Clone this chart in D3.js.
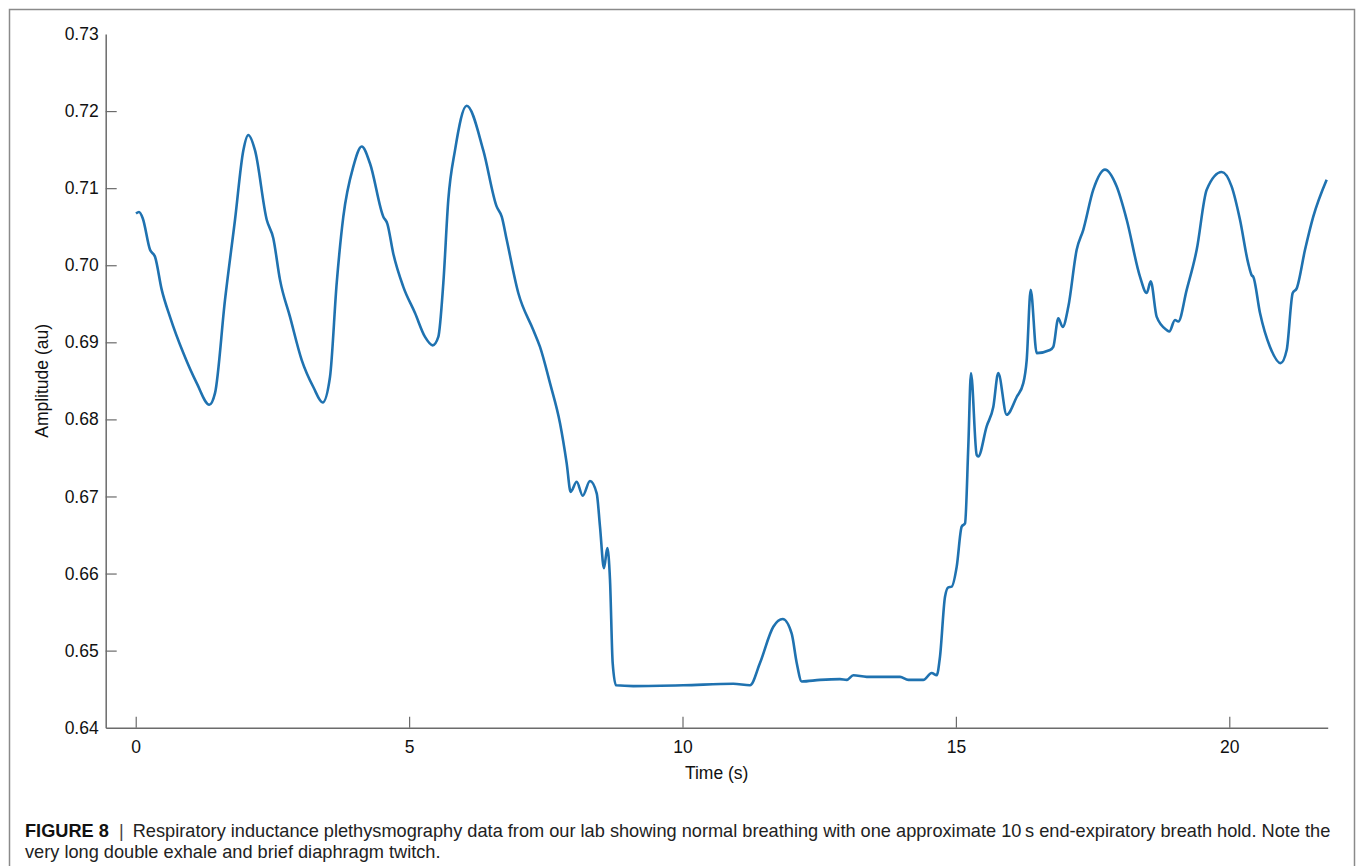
<!DOCTYPE html>
<meta charset="utf-8">

<head>
  <script src="https://d3js.org/d3.v7.min.js"></script>
  <style>
    body { margin: 0; background: #fff; }
    text { font-family: "Liberation Sans", Arial, Helvetica, sans-serif; }
  </style>
</head>

<body>
  <svg id="root"></svg>

  <script>
    // time (s) and amplitude (au)
    const timeS = [
      0.005, 0.06, 0.128, 0.262, 0.353, 0.476, 0.627, 0.871, 1.116, 1.346,
      1.45, 1.633, 1.816, 1.968, 2.059, 2.182, 2.396, 2.516, 2.639, 2.822,
      3.036, 3.248, 3.42, 3.553, 3.676, 3.797, 3.98, 4.133, 4.285, 4.528,
      4.601, 4.711, 4.894, 5.108, 5.291, 5.432, 5.534, 5.626, 5.717, 5.839,
      6.053, 6.357, 6.602, 6.694, 6.785, 6.997, 7.271, 7.394, 7.577, 7.76,
      7.882, 7.955, 8.065, 8.175, 8.308, 8.431, 8.491, 8.564, 8.625, 8.674,
      8.723, 8.784, 9.1, 10.015, 10.929, 11.234, 11.417, 11.661, 11.833, 11.997,
      12.089, 12.18, 12.515, 12.88, 13.003, 13.124, 13.369, 13.978, 14.13, 14.404,
      14.557, 14.649, 14.709, 14.801, 14.861, 14.923, 15.015, 15.106, 15.167, 15.227,
      15.276, 15.38, 15.409, 15.563, 15.684, 15.775, 15.929, 16.112, 16.233, 16.295,
      16.368, 16.478, 16.721, 16.781, 16.873, 16.953, 17.056, 17.209, 17.33, 17.513,
      17.727, 17.941, 18.124, 18.368, 18.49, 18.563, 18.673, 18.855, 18.903, 19.007,
      19.067, 19.221, 19.404, 19.587, 19.861, 20.044, 20.196, 20.348, 20.41, 20.439,
      20.562, 20.745, 20.94, 21.05, 21.16, 21.233, 21.385, 21.536, 21.781
    ];
    const amplitudeAu = [
      0.7067, 0.7069, 0.7061, 0.7020, 0.7011, 0.6968, 0.6933, 0.6886, 0.6847, 0.6819,
      0.6834, 0.6955, 0.7059, 0.7149, 0.7169, 0.7149, 0.7059, 0.7035, 0.6981, 0.6933,
      0.6877, 0.6842, 0.6822, 0.6855, 0.6977, 0.7063, 0.7128, 0.7154, 0.7132, 0.7063,
      0.7054, 0.7015, 0.6972, 0.6938, 0.6907, 0.6896, 0.6907, 0.6977, 0.7085, 0.7149,
      0.7207, 0.7149, 0.7076, 0.7063, 0.7033, 0.6964, 0.6916, 0.6894, 0.6847, 0.6795,
      0.6743, 0.6706, 0.6719, 0.6701, 0.6720, 0.6704, 0.6661, 0.6607, 0.6633, 0.6592,
      0.6484, 0.6455, 0.6454, 0.6455, 0.6457, 0.6455, 0.6484, 0.6531, 0.6541, 0.6522,
      0.6484, 0.6460, 0.6462, 0.6463, 0.6462, 0.6468, 0.6466, 0.6466, 0.6462, 0.6462,
      0.6471, 0.6468, 0.6492, 0.6570, 0.6582, 0.6583, 0.6609, 0.6661, 0.6665, 0.6765,
      0.6860, 0.6754, 0.6752, 0.6791, 0.6816, 0.6860, 0.6806, 0.6829, 0.6847, 0.6877,
      0.6968, 0.6886, 0.6890, 0.6894, 0.6931, 0.6920, 0.6946, 0.7020, 0.7046, 0.7098,
      0.7124, 0.7102, 0.7059, 0.6985, 0.6964, 0.6979, 0.6933, 0.6916, 0.6914, 0.6929,
      0.6927, 0.6968, 0.7020, 0.7098, 0.7121, 0.7102, 0.7059, 0.7002, 0.6987, 0.6985,
      0.6938, 0.6894, 0.6873, 0.6890, 0.6964, 0.6970, 0.7020, 0.7063, 0.7111
    ];
    const xTicks = [0, 5, 10, 15, 20];
    const yTicks = [0.64, 0.65, 0.66, 0.67, 0.68, 0.69, 0.70, 0.71, 0.72, 0.73];
    const xLabel = "Time (s)";
    const yLabel = "Amplitude (au)";
    const captionLines = [
      "Respiratory inductance plethysmography data from our lab showing normal breathing with one approximate 10\u2009s end-expiratory breath hold. Note the",
      "very long double exhale and brief diaphragm twitch."
    ];

    const W = 1357, H = 866;
    const plot = { left: 105.7, right: 1327.7, top: 34, bottom: 727.7 };

    const svg = d3.select("#root").attr("width", W).attr("height", H);

    // outer frame
    svg.append("rect")
      .attr("x", 9.5).attr("y", 9.5)
      .attr("width", 1345).attr("height", 880)
      .attr("fill", "none")
      .attr("stroke", "#8a8a8a")
      .attr("stroke-width", 1.5);

    const xScale = d3.scaleLinear([-0.549, 21.8], [plot.left, plot.right]);
    const yScale = d3.scaleLinear([0.64, 0.73], [plot.bottom, plot.top]);

    const axisColor = "#6b6b6b";

    // x axis, ticks pointing inward
    const gx = svg.append("g")
      .attr("transform", `translate(0,${plot.bottom})`)
      .call(d3.axisBottom(xScale).tickValues(xTicks).tickSizeInner(-11).tickSizeOuter(0).tickPadding(13));
    gx.select(".domain").attr("stroke", axisColor).attr("stroke-width", 1.5);
    gx.selectAll(".tick line").attr("stroke", axisColor).attr("stroke-width", 1.2);
    gx.selectAll(".tick text").attr("fill", "#111").attr("font-size", 17.5)
      .attr("font-family", "Liberation Sans, Arial, sans-serif");

    // y axis
    const gy = svg.append("g")
      .attr("transform", `translate(${plot.left},0)`)
      .call(d3.axisLeft(yScale).tickValues(yTicks).tickFormat(d3.format(".2f"))
        .tickSizeInner(-11).tickSizeOuter(0).tickPadding(7));
    gy.select(".domain").attr("stroke", axisColor).attr("stroke-width", 1.5);
    gy.selectAll(".tick line")
      .attr("stroke", axisColor).attr("stroke-width", 1.2)
      .attr("display", d => (d === 0.64 || d === 0.73) ? "none" : null);
    gy.selectAll(".tick text").attr("fill", "#111").attr("font-size", 17.5)
      .attr("font-family", "Liberation Sans, Arial, sans-serif");

    // axis labels
    svg.append("text")
      .attr("x", (plot.left + plot.right) / 2)
      .attr("y", 779)
      .attr("text-anchor", "middle")
      .attr("font-size", 17.5)
      .attr("fill", "#111")
      .text(xLabel);

    svg.append("text")
      .attr("transform", `translate(48,${(plot.top + plot.bottom) / 2}) rotate(-90)`)
      .attr("text-anchor", "middle")
      .attr("font-size", 17.5)
      .attr("fill", "#111")
      .text(yLabel);

    // signal
    const data = timeS.map((t, i) => [t, amplitudeAu[i]]);
    const line = d3.line()
      .x(d => xScale(d[0]))
      .y(d => yScale(d[1]))
      .curve(d3.curveMonotoneX);

    svg.append("path")
      .datum(data)
      .attr("fill", "none")
      .attr("stroke", "#1f72b0")
      .attr("stroke-width", 2.6)
      .attr("stroke-linejoin", "round")
      .attr("d", line);

    // caption
    const cap1 = svg.append("text")
      .attr("x", 25).attr("y", 837)
      .attr("font-size", 18.2)
      .attr("fill", "#222");
    cap1.append("tspan").attr("font-weight", "bold").attr("fill", "#111").text("FIGURE 8");
    cap1.append("tspan").attr("dx", 5).attr("fill", "#444").text(" | ");
    cap1.append("tspan").attr("dx", 4).text(captionLines[0]);

    svg.append("text")
      .attr("x", 25).attr("y", 858)
      .attr("font-size", 18.2)
      .attr("fill", "#222")
      .text(captionLines[1]);
  </script>
</body>
